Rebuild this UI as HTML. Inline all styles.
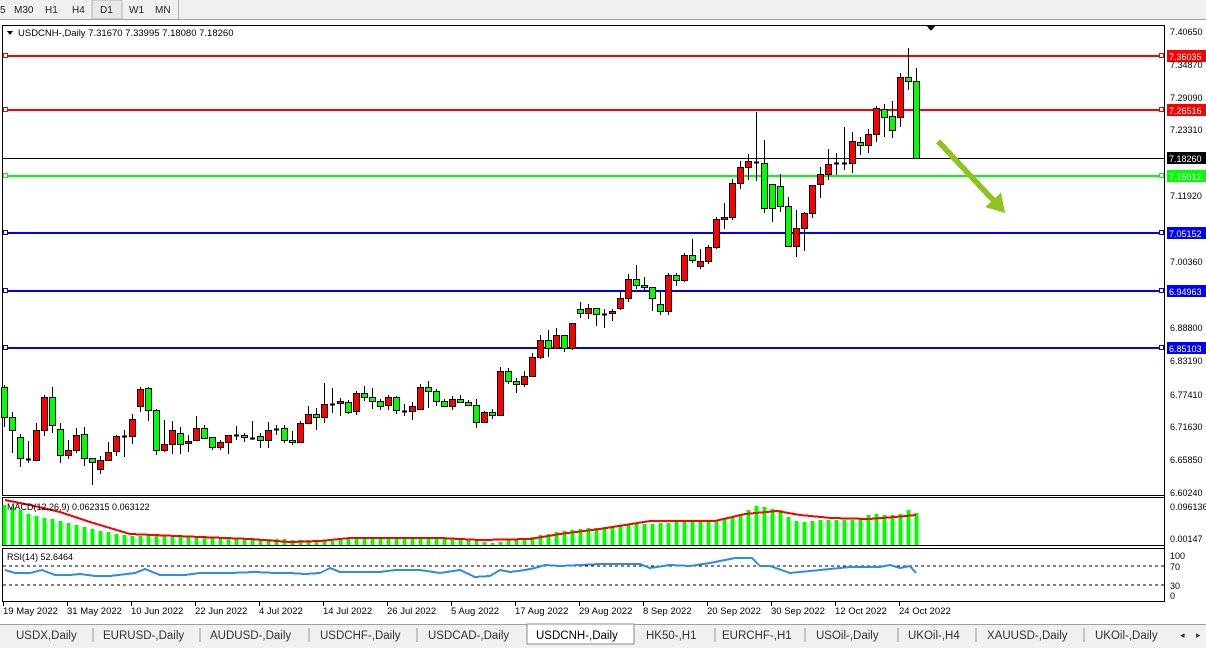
<!DOCTYPE html>
<html><head><meta charset="utf-8"><style>
html,body{margin:0;padding:0;background:#fff;width:1206px;height:648px;overflow:hidden;font-family:"Liberation Sans",sans-serif}
svg text{font-family:"Liberation Sans",sans-serif}
</style></head><body>
<svg id="s" width="1206" height="648" xmlns="http://www.w3.org/2000/svg" shape-rendering="crispEdges">
<rect x="0" y="0" width="1206" height="20" fill="#f0f0f0"/>
<line x1="0" y1="19.5" x2="1206" y2="19.5" stroke="#a0a0a0"/>
<rect x="92" y="0" width="30" height="19" fill="#e8e8e8" stroke="#b0b0b0"/>
<line x1="178.5" y1="0" x2="178.5" y2="19" stroke="#b0b0b0"/>
<g font-size="10" fill="#222">
<text x="0" y="13">5</text><text x="14" y="13">M30</text><text x="45" y="13">H1</text><text x="72" y="13">H4</text>
<text x="100" y="13">D1</text><text x="129" y="13">W1</text><text x="155" y="13">MN</text></g>
<rect x="0" y="20" width="1206" height="604" fill="#fff"/>
<rect x="2.5" y="25.5" width="1162" height="470" fill="none" stroke="#000"/>
<rect x="2.5" y="497.5" width="1162" height="48" fill="none" stroke="#000"/>
<rect x="2.5" y="548.5" width="1162" height="53" fill="none" stroke="#000"/>
<polygon points="7,31 13,31 10,35" fill="#000"/>
<text x="18" y="36" font-size="9.5" fill="#000">USDCNH-,Daily  7.31670 7.33995 7.18080 7.18260</text>
<polygon points="926,25 936,25 931,31" fill="#000"/>
<g id="lv"></g>
<g id="cd"></g>
<g id="mh"></g>
<polyline fill="none" stroke="#f00" stroke-width="2" points="5,500 30,505 60,512 90,522 130,534 200,537 250,539 290,542 320,541 350,538 440,538 480,540 530,539 560,534 600,529 650,521 715,521 745,514 777,511 800,515 831,518 869,519 895,517 916,515"/>
<line x1="3" y1="566" x2="1164" y2="566" stroke="#000" stroke-dasharray="3,3"/>
<line x1="3" y1="585" x2="1164" y2="585" stroke="#000" stroke-dasharray="3,3"/>
<polyline fill="none" stroke="#2e8de8" stroke-width="2" points="5,570 15,573 30,573 42,570 55,575 70,575 80,574 95,576 110,576 135,573 145,569 160,575 185,575 200,573 215,573 230,573 255,572 275,573 290,573 305,574 320,573 330,568 340,572 380,572 395,570 420,570 440,573 460,570 475,577 490,576 500,570 510,572 525,570 535,568 545,565 560,566 580,565 600,564 640,564 650,568 670,565 690,566 710,563 735,558 752,558 760,566 770,566 790,573 820,570 850,567 880,567 890,565 900,568 910,566 916,573"/>
<line x1="1164.5" y1="25" x2="1164.5" y2="602" stroke="#000"/>
<g font-size="9" fill="#000">
<text x="1170" y="35">7.40650</text><text x="1170" y="68">7.34870</text><text x="1170" y="101">7.29090</text><text x="1170" y="133">7.23310</text>
<text x="1170" y="199">7.11920</text><text x="1170" y="265">7.00360</text><text x="1170" y="331">6.88800</text>
<text x="1170" y="364">6.83190</text><text x="1170" y="398">6.77410</text><text x="1170" y="430">6.71630</text><text x="1170" y="463">6.65850</text><text x="1170" y="496">6.60240</text>
<text x="1170" y="510">0.096136</text><text x="1170" y="542">0.00147</text>
<text x="1170" y="559">100</text><text x="1170" y="570">70</text><text x="1170" y="589">30</text><text x="1170" y="599">0</text>
<text x="7" y="510">MACD(12,26,9) 0.062315 0.063122</text>
<text x="7" y="560">RSI(14) 52.6464</text>
</g>
<g id="tl" font-size="9.5" fill="#000"></g>
<polygon points="940,139 995,198 1001,192 1005,213 985,207 991,202 936,143" fill="#8fc31f"/>
<rect x="0" y="624" width="1206" height="24" fill="#f0f0f0"/>
<line x1="0" y1="624.5" x2="1206" y2="624.5" stroke="#a0a0a0"/>
<rect x="527" y="624" width="107" height="20" fill="#fff" stroke="#888"/>
<g font-size="11.5" fill="#333">
<text x="16" y="639">USDX,Daily</text><text x="103" y="639">EURUSD-,Daily</text><text x="210" y="639">AUDUSD-,Daily</text>
<text x="320" y="639">USDCHF-,Daily</text><text x="428" y="639">USDCAD-,Daily</text><text x="536" y="639" fill="#000">USDCNH-,Daily</text>
<text x="646" y="639">HK50-,H1</text><text x="722" y="639">EURCHF-,H1</text><text x="816" y="639">USOil-,Daily</text>
<text x="908" y="639">UKOil-,H4</text><text x="987" y="639">XAUUSD-,Daily</text><text x="1095" y="639">UKOil-,Daily</text>
<text x="1180" y="638" font-size="9">◂</text><text x="1196" y="638" font-size="9">▸</text></g>
<g stroke="#999"><line x1="93" y1="628" x2="93" y2="642"/><line x1="200" y1="628" x2="200" y2="642"/><line x1="309" y1="628" x2="309" y2="642"/><line x1="417" y1="628" x2="417" y2="642"/><line x1="715" y1="628" x2="715" y2="642"/><line x1="805" y1="628" x2="805" y2="642"/><line x1="898" y1="628" x2="898" y2="642"/><line x1="976" y1="628" x2="976" y2="642"/><line x1="1084" y1="628" x2="1084" y2="642"/></g>
</svg>
<script>
var NS="http://www.w3.org/2000/svg";
function el(p,t,a,txt){var e=document.createElementNS(NS,t);for(var k in a)e.setAttribute(k,a[k]);if(txt)e.textContent=txt;document.getElementById(p).appendChild(e);return e;}
[[56,"#f00","7.36035"],[110,"#f00","7.26516"],[176,"#00ff00","7.15012"],[233,"#0000ff","7.05152"],[291,"#0000ff","6.94963"],[348,"#0000ff","6.85103"]].forEach(function(l){
el("lv","line",{x1:3,y1:l[0],x2:1164,y2:l[0],stroke:l[1],"stroke-width":2});
el("lv","rect",{x:3.5,y:l[0]-2.5,width:4,height:4,fill:"#fff",stroke:l[1]});
el("lv","rect",{x:1159.5,y:l[0]-2.5,width:4,height:4,fill:"#fff",stroke:l[1]});
el("lv","rect",{x:1167,y:l[0]-6,width:39,height:12,fill:l[1]});
el("lv","text",{x:1169,y:l[0]+4,"font-size":9,fill:"#fff"},l[2]);});
el("lv","line",{x1:3,y1:158.5,x2:1164,y2:158.5,stroke:"#000"});
el("lv","rect",{x:1167,y:152,width:39,height:12,fill:"#000"});
el("lv","text",{x:1169,y:162,"font-size":9,fill:"#fff"},"7.18260");
var C=[[385,387,417,427,'g'],[412,417,430,453,'g'],[434,437,458,467,'g'],[441,459,459,463,'d'],[423,430,460,461,'r'],[395,397,430,436,'r'],[387,397,425,433,'g'],[423,429,455,463,'g'],[440,450,455,459,'r'],[428,435,450,453,'r'],
[427,434,458,466,'g'],[458,458,462,485,'g'],[456,460,469,474,'r'],[442,452,460,460,'r'],[435,436,451,456,'r'],[430,436,436,457,'d'],[414,419,436,444,'r'],[387,389,406,412,'r'],[387,388,410,421,'g'],[409,410,450,455,'g'],
[420,444,450,452,'r'],[421,430,444,454,'r'],[427,433,444,454,'g'],[435,441,443,452,'r'],[416,428,440,441,'r'],[425,428,438,439,'g'],[437,437,447,450,'g'],[440,442,447,450,'r'],[435,435,442,454,'r'],[426,435,435,440,'d'],
[433,435,437,442,'g'],[421,438,438,440,'d'],[433,436,440,448,'g'],[422,430,440,448,'r'],[425,429,429,435,'d'],[425,428,440,443,'g'],[431,440,442,445,'g'],[421,423,442,443,'r'],[406,414,423,424,'r'],[408,414,417,430,'g'],
[383,404,417,423,'r'],[388,404,404,413,'d'],[398,401,402,416,'r'],[400,402,412,414,'g'],[391,393,411,415,'r'],[386,393,397,401,'g'],[388,397,401,409,'g'],[399,401,406,410,'g'],[395,397,405,410,'r'],[396,397,410,414,'g'],
[404,411,411,416,'d'],[402,406,411,420,'r'],[384,387,409,410,'r'],[381,387,391,408,'g'],[389,391,401,406,'g'],[399,401,406,407,'g'],[396,399,406,410,'r'],[395,399,402,403,'g'],[400,402,405,406,'g'],[399,405,422,428,'g'],
[411,412,422,422,'r'],[409,412,415,419,'g'],[367,371,415,416,'r'],[368,371,381,384,'g'],[378,381,384,393,'g'],[371,376,384,387,'r'],[353,357,376,377,'r'],[335,340,357,359,'r'],[330,340,348,357,'g'],[328,335,348,348,'r'],
[335,335,348,352,'g'],[323,323,348,350,'r'],[302,309,313,318,'g'],[304,308,313,319,'r'],[308,308,314,326,'g'],[309,314,314,328,'d'],[309,311,313,321,'r'],[290,298,308,310,'r'],[274,279,298,302,'r'],[265,279,285,289,'g'],
[277,285,287,290,'g'],[287,287,298,311,'g'],[292,304,311,315,'g'],[273,275,311,315,'r'],[273,275,280,286,'g'],[253,255,280,282,'r'],[239,255,260,263,'g'],[249,261,266,269,'r'],[245,247,261,264,'r'],[217,219,247,249,'r'],
[203,217,219,229,'r'],[179,183,217,220,'r'],[161,167,183,189,'r'],[154,161,167,180,'r'],[112,162,162,181,'d'],[140,163,208,213,'g'],[184,184,208,222,'g'],[174,186,206,212,'g'],[197,206,246,246,'g'],[210,228,246,257,'r'],
[212,213,228,251,'r'],[185,185,213,218,'r'],[167,174,184,198,'r'],[149,164,174,180,'r'],[153,163,163,175,'d'],[127,163,163,170,'d'],[132,141,163,173,'r'],[137,142,145,155,'g'],[129,134,145,153,'r'],[106,108,134,142,'r'],
[104,109,117,137,'g'],[101,116,130,138,'g'],[73,77,117,127,'r'],[48,77,81,90,'g'],[68,81,158,159,'g']];
C.forEach(function(c,i){var x=4+8*i;
el("cd","line",{x1:x+.5,y1:c[0],x2:x+.5,y2:c[3],stroke:"#000"});
if(c[4]=='d'){el("cd","line",{x1:x-2,y1:c[1]+.5,x2:x+3,y2:c[1]+.5,stroke:"#000","stroke-width":2});}
else el("cd","rect",{x:x-2.5,y:c[1]+.5,width:6,height:Math.max(2,c[2]-c[1]),fill:c[4]=='r'?"#f00":"#00ff00",stroke:"#000"});});
var H=[[0,505],[1,507],[2,510],[3,514],[4,516],[5,518],[6,519],[7,521],[8,523],[9,525],[10,527],[11,529],[12,531],[13,532],[14,534],[15,535],[16,536],[18,535],[22,536],[26,537],[30,538],[34,539],[38,540],[40,541],[42,540],[44,538],[48,538],[52,537],[55,537],[58,539],[60,542],[61,543],[62,542],[63,540],[65,538],[67,535],[69,532],[71,530],[73,528],[75,527],[77,525],[80,524],[85,522],[88,522],[90,519],[91,517],[92,514],[93,510],[94,506],[95,507],[96,509],[97,510],[98,517],[99,521],[100,522],[102,520],[105,520],[107,519],[108,515],[109,514],[110,515],[112,514],[113,510],[114,513]];
var hv=[];for(var k=0;k<H.length-1;k++){for(var i=H[k][0];i<H[k+1][0];i++){var t=(i-H[k][0])/(H[k+1][0]-H[k][0]);hv[i]=H[k][1]+t*(H[k+1][1]-H[k][1]);}}hv[114]=513;
hv.forEach(function(v,i){var x=4+8*i;el("mh","rect",{x:x-1.5,y:Math.round(v),width:4,height:545-Math.round(v),fill:"#00ff00"});});
["19 May 2022","31 May 2022","10 Jun 2022","22 Jun 2022","4 Jul 2022","14 Jul 2022","26 Jul 2022","5 Aug 2022","17 Aug 2022","29 Aug 2022","8 Sep 2022","20 Sep 2022","30 Sep 2022","12 Oct 2022","24 Oct 2022"].forEach(function(s,i){
var x=3+64*i;el("tl","line",{x1:x+.5,y1:602,x2:x+.5,y2:606,stroke:"#000"});el("tl","text",{x:x,y:614},s);});
</script>
</body></html>
